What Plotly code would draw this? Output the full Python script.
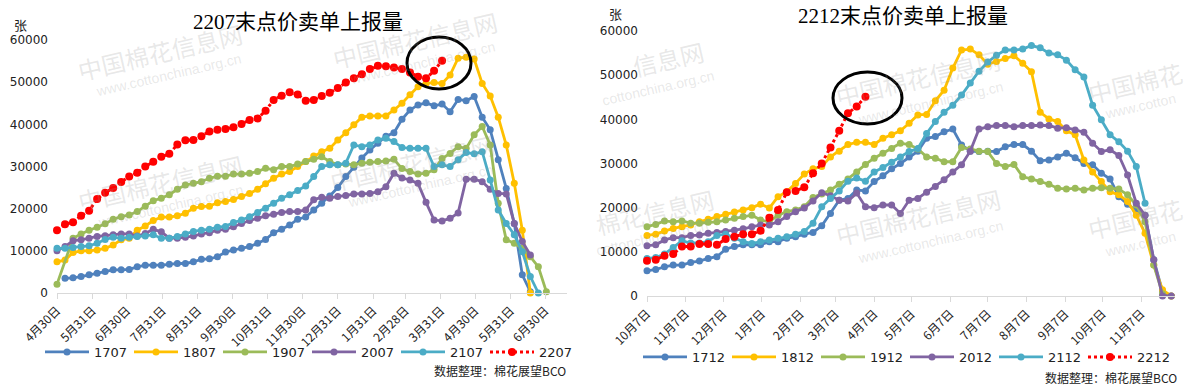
import plotly.graph_objects as go
import pandas as pd

# ---------------- data: left chart (2207), weekly from 2021-04-30 ----------------
left_start = "2021-04-30"
left_series_names = ["1707", "1807", "1907", "2007", "2107", "2207"]
L_1707 = [None, 3500, 3600, 3900, 4300, 4700, 5100, 5500, 5500, 5600, 6200, 6600, 6600, 6600, 6800, 7000,
          7000, 7400, 8000, 8100, 8600, 9700, 10200, 10600, 11000, 11800, 12700, 14300, 15100, 16100, 17500,
          18000, 19700, 21300, 23000, 25000, 27600, 29800, 32000, 33900, 35500, 37200, 38000, 41200, 43400,
          44600, 45100, 44400, 44800, 43000, 45900, 45600, 46600, 41700, 38700, 31600, 24800, 16500, 4300, 300]
L_1807 = [7400, 7800, 9600, 10000, 10000, 10200, 10600, 11400, 12600, 13000, 14900, 15900, 17200, 18000, 18000,
          18300, 18900, 20100, 20500, 20600, 21400, 21700, 22200, 22900, 23600, 24600, 25900, 27200, 28200, 28800,
          30000, 31200, 32500, 33500, 34300, 36300, 38000, 39900, 41700, 42000, 42000, 42000, 43400, 45000, 47000,
          48900, 49700, 49900, 49700, 51700, 55700, 55900, 55500, 49700, 46700, 41700, 35100, 26000, 14900, 0]
L_1907 = [2100, None, 13000, 14000, 14900, 15600, 16400, 17500, 18100, 18500, 19300, 20600, 21900, 22500, 23300,
          24600, 25600, 26000, 26400, 27200, 27700, 27700, 28200, 28200, 28400, 28800, 29600, 29200, 30000, 30000,
          30600, 31200, 31700, 32300, 31200, 30400, 30600, 30400, 30800, 31000, 31200, 31300, 31700, 29500, 28800,
          28200, 28400, 29200, 31900, 33100, 34700, 34300, 37500, 39500, 35100, 21300, 12600, 11800, 10600, 8600,
          6200, 300]
L_2007 = [10000, 11000, 12400, 12600, 13000, 13400, 13600, 13800, 14000, 14000, 13500, 14100, 15100, 14500, 13000,
          13000, 13200, 13500, 14000, 14300, 14900, 15100, 15700, 16500, 17200, 17700, 18300, 18700, 19100, 19300,
          19300, 19700, 22100, 22700, 22500, 22900, 23100, 23500, 23500, 23600, 24000, 25200, 28400, 27300, 26800,
          26000, 21500, 17300, 17100, 17700, 19000, 27000, 27000, 26400, 24600, 23600, 23500, 16500, 12200, 9000]
L_2107 = [10600, 10600, 10800, 11000, 11200, 11800, 12700, 13200, 13000, 13200, 13400, 13500, 13800, 13000, 13000,
          13400, 14000, 14600, 14900, 15100, 15600, 15800, 16700, 17300, 18100, 19100, 20100, 21300, 22500, 23300,
          24300, 25400, 27600, 30000, 30400, 30400, 30800, 35100, 34700, 35100, 36300, 36700, 35900, 34500, 34300,
          34300, 34300, 30000, 30400, 30000, 31600, 33300, 33000, 33500, 26800, 19700, 16500, 13800, 9800, 3900, 0]
L_2207 = [14900, 16300, 16800, 18300, 19500, 22300, 23800, 24900, 26300, 27600, 28500, 30000, 31100, 32300, 33000,
          35200, 36200, 36300, 37200, 38300, 38700, 38900, 39300, 40100, 41000, 41400, 43200, 45800, 46800, 47600,
          47100, 45600, 45800, 46700, 47500, 48600, 49900, 50900, 51900, 53100, 53900, 53800, 53500, 53100, 52300,
          51300, 50900, 52700, 55100]
left_tick_dates = ["2021-04-30", "2021-05-31", "2021-06-30", "2021-07-31", "2021-08-31", "2021-09-30",
                   "2021-10-31", "2021-11-30", "2021-12-31", "2022-01-31", "2022-02-28", "2022-03-31",
                   "2022-04-30", "2022-05-31", "2022-06-30"]
left_tick_labels = ["4月30日", "5月31日", "6月30日", "7月31日", "8月31日", "9月30日", "10月31日", "11月30日",
                    "12月31日", "1月31日", "2月28日", "3月31日", "4月30日", "5月31日", "6月30日"]

# ---------------- data: right chart (2212), weekly from 2021-10-07 ----------------
right_start = "2021-10-07"
right_series_names = ["1712", "1812", "1912", "2012", "2112", "2212"]
R_1712 = [5700, 6000, 6600, 7000, 7000, 7600, 7900, 8500, 8900, 10600, 11200, 11600, 11600, 11600, 12300, 12300,
          13100, 13400, 14000, 14400, 15900, 18700, 21700, 22100, 24000, 23800, 25900, 27200, 28800, 30000, 31500,
          32800, 35700, 36100, 37200, 37800, 34200, 32800, 32700, 32800, 32700, 33800, 34300, 34300, 32800, 30600,
          30800, 31500, 32300, 31300, 30000, 29700, 27800, 26500, 22500, 20800, 19200, 18300, 8200, 1000, 0]
R_1812 = [13700, 14000, 14700, 15300, 15700, 16100, 16800, 17400, 18000, 18500, 19000, 19500, 20000, 20800, 19900,
          22500, 23600, 25500, 27600, 28800, 29300, 31500, 32800, 34300, 34800, 34800, 34300, 35700, 36500, 37400,
          39100, 41000, 41100, 44200, 46600, 51600, 55700, 55900, 54600, 52500, 53100, 53800, 54400, 52700, 50800,
          41600, 40100, 39500, 37400, 36500, 30800, 28100, 25900, 23600, 22900, 21400, 18300, 14200, 7000, 1400, 0]
R_1912 = [15700, 16200, 17000, 16800, 17000, 16500, 16500, 16700, 16800, 17200, 17600, 18000, 18300, 17200, 16800,
          18300, 19100, 19500, 20200, 22300, 23100, 24000, 25300, 26500, 28100, 29800, 31200, 32300, 33400, 34600,
          34300, 33300, 31500, 31200, 30400, 30400, 33600, 33300, 32800, 32700, 30000, 29300, 29800, 27000, 26500,
          25900, 25300, 24400, 24200, 24400, 24000, 24400, 24500, 24400, 24200, 22900, 20600, 16800, 7000, 500]
R_2012 = [11400, 11600, 12700, 13200, 13200, 13700, 13800, 14200, 14400, 14600, 14900, 15200, 15700, 16100, 16100,
          16800, 18000, 19100, 19900, 21500, 23400, 22700, 21700, 21500, 23300, 20200, 20000, 20600, 20600, 18700,
          21700, 22100, 23500, 24800, 26300, 28100, 29700, 32800, 37800, 38300, 38600, 38600, 38300, 38600, 38600,
          38700, 38600, 38000, 38100, 37600, 37100, 34600, 32700, 33100, 31800, 27400, 21000, 18300, 8200, 0, 0]
R_2112 = [8500, 8700, 9500, 11000, 12500, 12000, 12000, 12300, 13700, 14000, 13100, 12300, 11900, 12300, 12700,
          13100, 13400, 14000, 14600, 16500, 20200, 22100, 23800, 26000, 26700, 26000, 28100, 29100, 30300, 31500,
          32700, 33400, 36800, 39500, 41600, 43200, 45500, 48200, 50900, 53000, 54500, 55700, 55700, 55900, 56700,
          56200, 55000, 54600, 53400, 51200, 49600, 43200, 39900, 36500, 34900, 32800, 29300, 21000]
R_2212 = [8000, 8200, 9100, 9500, 11200, 11200, 11800, 11800, 11600, 12900, 13400, 14000, 14000, 14800, 17700,
          19500, 23500, 23800, 24600, 27800, 30000, 33600, 37400, 41400, 42900, 45100]
right_tick_dates = ["2021-10-07", "2021-11-07", "2021-12-07", "2022-01-07", "2022-02-07", "2022-03-07",
                    "2022-04-07", "2022-05-07", "2022-06-07", "2022-07-07", "2022-08-07", "2022-09-07",
                    "2022-10-07", "2022-11-07"]
right_tick_labels = ["10月7日", "11月7日", "12月7日", "1月7日", "2月7日", "3月7日", "4月7日", "5月7日",
                     "6月7日", "7月7日", "8月7日", "9月7日", "10月7日", "11月7日"]

y_tick_vals = [0, 10000, 20000, 30000, 40000, 50000, 60000]
y_tick_text = ["0", "10000", "20000", "30000", "40000", "50000", "60000"]

titles = ["2207末点价卖单上报量", "2212末点价卖单上报量"]
unit_label = "张"
source_label = "数据整理：棉花展望BCO"

colors = ["#4F81BD", "#FFC000", "#9BBB59", "#8064A2", "#4BACC6", "#FF0000"]

W, H = 1197, 388
FONT = "Noto Sans CJK SC, DejaVu Sans, sans-serif"

left_dates = pd.date_range(left_start, periods=64, freq="7D")
right_dates = pd.date_range(right_start, periods=64, freq="7D")

fig = go.Figure()


def add_series(dates, values, name, color, xa, ya, legend, is_current):
    xs = list(dates[:len(values)])
    if is_current:
        line = dict(color=color, width=3, dash="dot")
        marker = dict(size=8, color=color, symbol="circle")
    else:
        line = dict(color=color, width=2.8)
        marker = dict(size=7, color=color, symbol="circle")
    fig.add_trace(go.Scatter(
        x=xs, y=values, name=name, mode="lines+markers", line=line, marker=marker,
        xaxis=xa, yaxis=ya, legend=legend, cliponaxis=False, connectgaps=True,
        hoverinfo="x+y+name"))


left_vals = [L_1707, L_1807, L_1907, L_2007, L_2107, L_2207]
right_vals = [R_1712, R_1812, R_1912, R_2012, R_2112, R_2212]
for i, (n, v) in enumerate(zip(left_series_names, left_vals)):
    add_series(left_dates, v, n, colors[i], "x", "y", "legend", i == 5)
for i, (n, v) in enumerate(zip(right_series_names, right_vals)):
    add_series(right_dates, v, n, colors[i], "x2", "y2", "legend2", i == 5)


def px_x(p):
    return p / W


def px_y(p):
    return 1 - p / H


xcommon = dict(type="date", showgrid=False, zeroline=False, showline=True, linecolor="#D9D9D9", linewidth=1,
               ticks="outside", ticklen=5, tickcolor="#D9D9D9", tickangle=-45, automargin=False,
               tickfont=dict(family=FONT, size=12, color="#222222"))
ycommon = dict(range=[0, 60000], showgrid=False, zeroline=False, showline=False, ticks="",
               tickvals=y_tick_vals, ticktext=y_tick_text, ticklabelstandoff=8, automargin=False,
               tickfont=dict(family="DejaVu Sans, sans-serif", size=12, color="#222222"))

legend_common = dict(orientation="h", xanchor="left", yanchor="middle", itemwidth=44,
                     entrywidth=30, entrywidthmode="pixels", bgcolor="rgba(0,0,0,0)",
                     font=dict(family="DejaVu Sans, sans-serif", size=13, color="#222222"))

fig.update_layout(
    width=W, height=H, margin=dict(l=0, r=0, t=0, b=0, autoexpand=False),
    paper_bgcolor="white", plot_bgcolor="rgba(0,0,0,0)",
    xaxis=dict(domain=[px_x(57), px_x(567)], anchor="y", range=["2021-04-30", "2022-07-19"],
               tickvals=left_tick_dates, ticktext=left_tick_labels, **xcommon),
    yaxis=dict(domain=[px_y(293), px_y(40)], anchor="x", **ycommon),
    xaxis2=dict(domain=[px_x(647), px_x(1175)], anchor="y2", range=["2021-10-07", "2022-12-04"],
                tickvals=right_tick_dates, ticktext=right_tick_labels, **xcommon),
    yaxis2=dict(domain=[px_y(296), px_y(31)], anchor="x2", **ycommon),
    legend=dict(x=px_x(40), y=px_y(352), **legend_common),
    legend2=dict(x=px_x(638), y=px_y(357), **legend_common),
    showlegend=True,
)

# watermarks (faint)
wm_main = "中国棉花信息网"
wm_url = "www.cottonchina.org.cn"
watermarks = [
    (wm_main, 160, 52, 24), (wm_url, 168, 75, 14),
    (wm_main, 415, 40, 24), (wm_url, 422, 63, 14),
    (wm_main, 160, 182, 24), (wm_url, 170, 206, 14),
    (wm_main, 412, 162, 24), (wm_url, 420, 186, 14),
    ("信息网", 668, 58, 24), ("cottonchina.org.cn", 658, 88, 14),
    (wm_main, 918, 78, 24), (wm_url, 930, 103, 14),
    ("中国棉花", 1135, 82, 24), ("www.cotton", 1140, 106, 14),
    ("棉花信息网", 655, 212, 24), ("cottonchina.org.cn", 652, 238, 14),
    (wm_main, 918, 216, 24), (wm_url, 930, 242, 14),
    ("中国棉花", 1135, 218, 24), ("www.cotton", 1140, 244, 14),
]
for t, x, y, s in watermarks:
    fig.add_annotation(text=t, x=px_x(x), y=px_y(y), xref="paper", yref="paper", showarrow=False,
                       textangle=-13, font=dict(family=FONT if s > 20 else "Liberation Sans, sans-serif",
                                               size=s, color="rgba(150,150,150,0.22)"),
                       xanchor="center", yanchor="middle")

# titles and labels
TITLE_FONT = "Liberation Serif, Noto Sans CJK SC, serif"
fig.add_annotation(text=titles[0], x=px_x(298), y=px_y(22), xref="paper", yref="paper", showarrow=False,
                   font=dict(family=TITLE_FONT, size=21, color="black"), xanchor="center", yanchor="middle")
fig.add_annotation(text=titles[1], x=px_x(903), y=px_y(16), xref="paper", yref="paper", showarrow=False,
                   font=dict(family=TITLE_FONT, size=21, color="black"), xanchor="center", yanchor="middle")
fig.add_annotation(text=unit_label, x=px_x(20), y=px_y(24), xref="paper", yref="paper", showarrow=False,
                   font=dict(family=FONT, size=13, color="#222222"), xanchor="center", yanchor="middle")
fig.add_annotation(text=unit_label, x=px_x(615), y=px_y(14), xref="paper", yref="paper", showarrow=False,
                   font=dict(family=FONT, size=13, color="#222222"), xanchor="center", yanchor="middle")
fig.add_annotation(text=source_label, x=px_x(568), y=px_y(370), xref="paper", yref="paper", showarrow=False,
                   font=dict(family=FONT, size=12, color="#222222"), xanchor="right", yanchor="middle")
fig.add_annotation(text=source_label, x=px_x(1179), y=px_y(377), xref="paper", yref="paper", showarrow=False,
                   font=dict(family=FONT, size=12, color="#222222"), xanchor="right", yanchor="middle")

# highlight ellipses
fig.add_shape(type="circle", xref="paper", yref="paper", x0=px_x(407), x1=px_x(471), y0=px_y(89), y1=px_y(37),
              line=dict(color="black", width=3))
fig.add_shape(type="circle", xref="paper", yref="paper", x0=px_x(833), x1=px_x(902), y0=px_y(124), y1=px_y(72),
              line=dict(color="black", width=3))

fig.write_html("out.html", config={"displayModeBar": False},
               post_script="document.body.style.margin='0';")
